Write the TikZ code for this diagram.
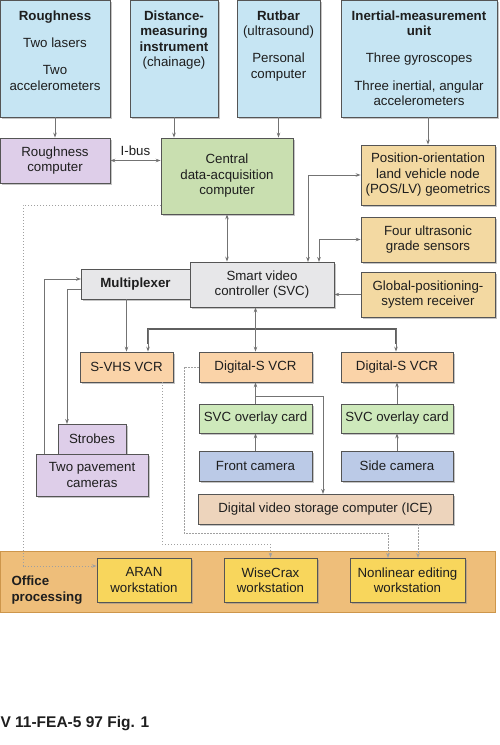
\documentclass[tikz,border=0pt]{standalone}
\usepackage{fontspec}
\setmainfont{Liberation Sans}
\usetikzlibrary{shadows,arrows.meta}

\definecolor{sensorblue}{RGB}{198,229,243}
\definecolor{lilac}{RGB}{222,206,233}
\definecolor{hubgreen}{RGB}{201,223,176}
\definecolor{auxtan}{RGB}{243,217,162}
\definecolor{ctlgray}{RGB}{231,231,233}
\definecolor{vcrpeach}{RGB}{250,211,168}
\definecolor{cardgreen}{RGB}{206,233,187}
\definecolor{camblue}{RGB}{187,202,231}
\definecolor{icebeige}{RGB}{237,212,188}
\definecolor{wsyellow}{RGB}{248,214,92}
\definecolor{officeorange}{RGB}{238,190,122}
\definecolor{officeedge}{RGB}{205,150,75}
\definecolor{boxline}{RGB}{85,85,85}
\definecolor{inkdark}{RGB}{30,30,30}
\definecolor{wire}{RGB}{115,115,115}
\definecolor{buswire}{RGB}{95,95,95}
\definecolor{dotgray}{RGB}{160,160,160}

\newcommand{\bodyfont}{\fontsize{13.3}{15.5}\selectfont}
\newcommand{\sensortext}[3]{\parbox[c][#2pt][t]{#1pt}{\centering\rule{0pt}{20pt}#3}}

\tikzset{
  blk/.style={draw=boxline, line width=0.8pt, inner sep=1pt, align=center,
    text=inkdark, font=\bodyfont,
    drop shadow={shadow xshift=2pt, shadow yshift=-2pt, fill=black!45, opacity=0.5}},
  sensor/.style={blk, fill=sensorblue, inner sep=0pt},
  pc/.style={blk, fill=lilac},
  hub/.style={blk, fill=hubgreen},
  aux/.style={blk, fill=auxtan},
  ctl/.style={blk, fill=ctlgray},
  vcr/.style={blk, fill=vcrpeach},
  card/.style={blk, fill=cardgreen},
  cam/.style={blk, fill=camblue},
  store/.style={blk, fill=icebeige},
  ws/.style={blk, fill=wsyellow},
  link/.style={draw=wire, line width=0.9pt},
  bus/.style={draw=buswire, line width=1.5pt},
  dots/.style={draw=dotgray, line width=1pt, dash pattern=on 1.3pt off 1.7pt}
}

\begin{document}
\begin{tikzpicture}[x=1pt,y=-1pt,>={Stealth[length=5pt,width=3.6pt]}]
  \useasboundingbox (0,0) rectangle (500,745);

  % sensors
  \node[sensor, minimum width=110pt, minimum height=117pt] (rough) at (55,58.5)
    {\sensortext{106}{117}{\textbf{Roughness}\\[12pt] Two lasers\\[11.5pt] Two\\ accelerometers}};
  \node[sensor, minimum width=88pt, minimum height=117pt] (dmi) at (174,58.5)
    {\sensortext{86}{117}{\textbf{Distance-}\\ \textbf{measuring}\\ \textbf{instrument}\\ (chainage)}};
  \node[sensor, minimum width=83pt, minimum height=117pt] (rutbar) at (278.5,58.5)
    {\sensortext{81}{117}{\textbf{Rutbar}\\ (ultrasound)\\[11.5pt] Personal\\ computer}};
  \node[sensor, minimum width=156pt, minimum height=117pt] (imu) at (419,58.5)
    {\sensortext{152}{117}{\textbf{Inertial-measurement}\\ \textbf{unit}\\[11.5pt] Three gyroscopes\\[12pt] Three inertial, angular\\ accelerometers}};

  % computers
  \node[pc, minimum width=110pt, minimum height=45pt] (roughpc) at (55,160.5) {Roughness\\ computer};
  \node[hub, minimum width=132pt, minimum height=76pt] (cdac) at (227,176) {Central\\ data-acquisition\\ computer};
  \node[aux, minimum width=134pt, minimum height=60pt] (posl) at (428,175) {Position-orientation\\ land vehicle node\\ (POS/LV) geometrics};
  \node[aux, minimum width=134pt, minimum height=45pt] (ultra) at (428,239.5) {Four ultrasonic\\ grade sensors};
  \node[aux, minimum width=134pt, minimum height=45pt] (gps) at (428,294.5) {Global-positioning-\\ system receiver};
  \node[ctl, minimum width=109pt, minimum height=30pt, font=\bodyfont\bfseries] (mux) at (135.5,284) {Multiplexer};
  \node[ctl, minimum width=144pt, minimum height=45pt] (svc) at (262,284.5) {Smart video\\ controller (SVC)};

  % video chain
  \node[vcr, minimum width=93pt, minimum height=30pt] (svhs) at (126.5,367) {S-VHS VCR};
  \node[vcr, minimum width=113pt, minimum height=30pt] (dsa) at (255.5,367) {Digital-S VCR};
  \node[vcr, minimum width=112pt, minimum height=30pt] (dsb) at (397,367) {Digital-S VCR};
  \node[card, minimum width=113pt, minimum height=29pt] (ovla) at (255.5,418.5) {SVC overlay card};
  \node[card, minimum width=112pt, minimum height=29pt] (ovlb) at (397,418.5) {SVC overlay card};
  \node[cam, minimum width=113pt, minimum height=30pt] (frontcam) at (255.5,466) {Front camera};
  \node[cam, minimum width=112pt, minimum height=30pt] (sidecam) at (397,466) {Side camera};
  \node[store, minimum width=255pt, minimum height=30pt] (ice) at (325.5,509) {Digital video storage computer (ICE)};
  \node[pc, minimum width=68pt, minimum height=30pt] (strobes) at (92,439) {Strobes};
  \node[pc, minimum width=112pt, minimum height=42pt] (pavecam) at (92,475) {Two pavement\\ cameras};

  % office processing
  \node[draw=officeedge, fill=officeorange, line width=1pt, minimum width=495pt, minimum height=61pt] (office) at (247.5,581.5) {};
  \node[anchor=west, align=left, font=\bodyfont\bfseries, text=inkdark] (officelbl) at (8,590) {Office\\ processing};
  \node[ws, minimum width=94pt, minimum height=44pt] (aran) at (144,580) {ARAN\\ workstation};
  \node[ws, minimum width=93pt, minimum height=44pt] (wisecrax) at (270.5,580) {WiseCrax\\ workstation};
  \node[ws, minimum width=115pt, minimum height=44pt] (nle) at (407.5,580) {Nonlinear editing\\ workstation};

  \node[anchor=base west, font=\fontsize{15.5}{18}\selectfont\bfseries, text=inkdark] (figref) at (-3,727) {V 11-FEA-5 97 Fig. 1};

  % connection points
  \coordinate (p1) at (308,262);
  \coordinate (p2) at (319,262);
  \coordinate (muxin) at (81,279);
  \coordinate (muxout) at (81,289);
  \coordinate (c1) at (44,454);
  \coordinate (strA) at (67,424);
  \coordinate (b1) at (148,329);
  \coordinate (b2) at (396,329);
  \coordinate (br) at (255.5,396);
  \coordinate (iceA) at (323,494);
  \coordinate (d1) at (161,205);
  \coordinate (d2) at (162,382);
  \coordinate (nleA) at (388,558);
  \coordinate (nleB) at (418,558);

  % solid links
  \draw[link,->] (rough.south) -- (roughpc.north);
  \draw[link,->] (dmi.south) -- (dmi.south |- cdac.north);
  \draw[link,->] (rutbar.south) -- (rutbar.south |- cdac.north);
  \draw[link,->] (posl.north |- imu.south) -- (posl.north);
  \draw[link,<->] (roughpc.east) -- (roughpc.east -| cdac.west) node[midway, above=1pt, font=\bodyfont, text=inkdark] (ibus) {I-bus};
  \draw[link,<->] (cdac.south) -- (cdac.south |- svc.north);
  \draw[link,<->] (posl.west) -| (p1);
  \draw[link,<->] (ultra.west) -| (p2);
  \draw[link,->] (gps.west) -- (gps.west -| svc.east);
  \draw[link,->] (c1) |- (muxin);
  \draw[link,->] (muxout) -| (strA);
  \draw[link,->] (svhs.north |- mux.south) -- (svhs.north);
  \draw[bus] (b1 |- svhs.north) ++(0,-8) -- (b1) -- (b2) -- ++(0,15);
  \draw[link,->] (b1) -- (b1 |- svhs.north);
  \draw[link,->] (b2) -- (b2 |- dsb.north);
  \draw[link,<->] (dsa.north |- svc.south) -- (dsa.north);
  \draw[link,->] (ovla.north) -- (dsa.south);
  \draw[link,->] (br) -| (iceA);
  \draw[link,->] (frontcam.north) -- (ovla.south);
  \draw[link,->] (ovlb.north) -- (dsb.south);
  \draw[link,->] (sidecam.north) -- (ovlb.south);

  % dotted links
  \draw[dots,->] (d1) -| (23,566) -- (23,566 -| aran.west);
  \draw[dots,->] (d2) |- (270.5,544) -- (wisecrax.north);
  \draw[dots,->] (dsa.west) -| (184,533) -| (nleA);
  \draw[dots,->] (ice.south -| nleB) -- (nleB);
\end{tikzpicture}
\end{document}
